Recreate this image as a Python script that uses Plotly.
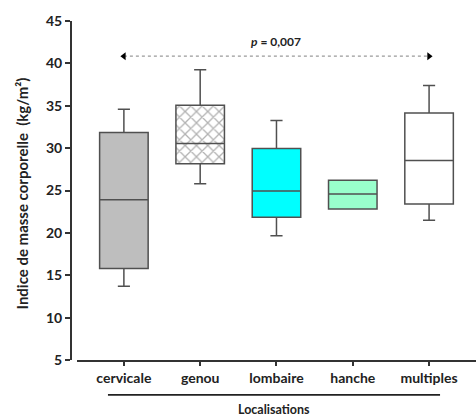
import plotly.graph_objects as go

categories = ["cervicale", "genou", "lombaire", "hanche", "multiples"]
lower_whisker = [13.7, 25.8, 19.65, 22.83, 21.5]
q1_values = [15.8, 28.15, 21.85, 22.83, 23.4]
medians = [23.9, 30.55, 24.95, 24.6, 28.55]
q3_values = [31.85, 35.05, 29.95, 26.2, 34.15]
upper_whisker = [34.6, 39.25, 33.25, 26.2, 37.4]
fill_colors = ["#BEBEBE", "rgba(0,0,0,0)", "#00FFFF", "#99FFCC", "#FFFFFF"]
hatched = ["genou"]
p_label = "<i>p</i> = 0,007"
p_arrow_y = 40.85
p_text_y = 42.6
y_ticks = [5, 10, 15, 20, 25, 30, 35, 40, 45]

FONT = "Lato"
LINE = "#505050"
BOX_W = 0.636
TXT = "#222"

fig = go.Figure()

# hatched fill (drawn under the box outline)
for cat in hatched:
    i = categories.index(cat)
    fig.add_trace(go.Bar(
        x=[cat], y=[q3_values[i] - q1_values[i]], base=[q1_values[i]],
        width=BOX_W,
        marker=dict(color="white", line=dict(width=0),
                    pattern=dict(shape="x", fgcolor="#666666", bgcolor="white",
                                 size=8, solidity=0.3)),
        showlegend=False, hoverinfo="skip"))

for i, cat in enumerate(categories):
    fig.add_trace(go.Box(
        x=[cat], q1=[q1_values[i]], median=[medians[i]], q3=[q3_values[i]],
        lowerfence=[lower_whisker[i]], upperfence=[upper_whisker[i]],
        fillcolor=fill_colors[i], line=dict(color=LINE, width=1.5),
        width=BOX_W, whiskerwidth=0.25, boxpoints=False,
        showlegend=False))

# significance arrow
fig.add_trace(go.Scatter(
    x=[categories[0], categories[-1]], y=[p_arrow_y, p_arrow_y],
    mode="lines", line=dict(color="#9a9a9a", width=1.2, dash="dot"),
    showlegend=False, hoverinfo="skip"))
fig.add_trace(go.Scatter(
    x=[categories[0], categories[-1]], y=[p_arrow_y, p_arrow_y],
    mode="markers",
    marker=dict(symbol=["triangle-left", "triangle-right"], size=7, color="black"),
    showlegend=False, hoverinfo="skip"))

fig.add_annotation(x=categories[2], y=p_text_y, text=p_label,
                   showarrow=False, xanchor="center", yanchor="middle",
                   font=dict(family=FONT, size=12, color=TXT, weight="bold"))

# y-axis title
fig.add_annotation(xref="paper", yref="paper", x=-0.124, y=0.491,
                   xanchor="center", yanchor="middle",
                   text="Indice de masse corporelle  (kg/m²)",
                   textangle=-90, showarrow=False,
                   font=dict(family=FONT, size=15, color=TXT, weight="bold"))

# x-axis title with rule above
fig.add_annotation(xref="paper", yref="paper", x=0.5, y=-0.145,
                   xanchor="center", yanchor="middle",
                   text="Localisations", showarrow=False,
                   font=dict(family=FONT, size=12.5, color=TXT, weight="bold"))
fig.add_shape(type="line", xref="paper", yref="paper", x0=0.089, x1=0.911,
              y0=-0.103, y1=-0.103, line=dict(color=TXT, width=1.8))
# x axis baseline (offset from y axis)
fig.add_shape(type="line", xref="paper", yref="paper", x0=0.0124, x1=1,
              y0=-0.003, y1=-0.003, line=dict(color="#333", width=2))

fig.update_layout(
    width=476, height=418,
    margin=dict(l=72, r=0, t=21, b=58),
    paper_bgcolor="white", plot_bgcolor="white",
    boxmode="overlay", barmode="overlay",
    showlegend=False,
    font=dict(family=FONT, color=TXT),
    xaxis=dict(type="category", categoryorder="array", categoryarray=categories,
               range=[-0.68, 4.615], showline=False, showgrid=False, zeroline=False,
               ticks="outside", ticklen=5, tickwidth=1.5, tickcolor="#333",
               tickfont=dict(family=FONT, size=14, color=TXT, weight="bold")),
    yaxis=dict(range=[5, 45], tickvals=y_ticks, showline=True, linecolor="#333",
               linewidth=2, showgrid=False, zeroline=False,
               ticks="outside", ticklen=5, tickwidth=1.5, tickcolor="#333",
               tickfont=dict(family=FONT, size=14, color=TXT, weight="bold")),
)

fig.write_html("out.html", config={"displayModeBar": False},
               post_script="document.body.style.margin='0';")
